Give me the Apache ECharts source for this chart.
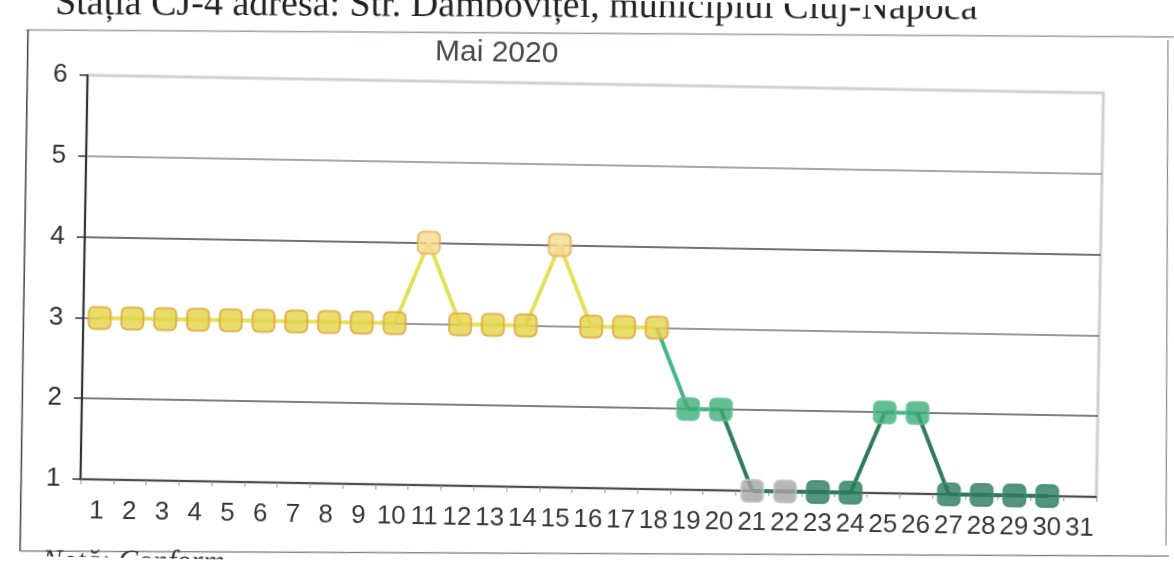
<!DOCTYPE html>
<html>
<head>
<meta charset="utf-8">
<script src="https://cdn.jsdelivr.net/npm/echarts@6/dist/echarts.min.js"></script>
<style>
html,body{margin:0;padding:0;background:#fff;overflow:hidden;}
#chart{width:1174px;height:566px;transform:rotate(1deg);transform-origin:587px 283px;}
</style>
</head>
<body>
<div id="chart"></div>
<script>
// ---- data ----
const days = ['1','2','3','4','5','6','7','8','9','10','11','12','13','14','15','16','17','18','19','20','21','22','23','24','25','26','27','28','29','30','31'];
const indexValues = [3,3,3,3,3,3,3,3,3,3,4,3,3,3,4,3,3,3,2,2,1,1,1,1,2,2,1,1,1,1,null];
const greyDays = ['21','22'];
const yTicks = [1,2,3,4,5,6];
const chartTitle = 'Mai 2020';
const headerText = 'Stația CJ-4 adresa: Str. Dâmboviței, municipiul Cluj-Napoca';
const footerText = 'Notă: Conform';

// ---- styles ----
const markerFill = {1:'#2c7b5d', 2:'#3eab7a', 3:'#e2d348', 4:'#f5d98c'};
const markerBorder = {1:'#3d8c6c', 2:'#62c394', 3:'#e0a53a', 4:'#e8ae55'};
const lineColor = {1:'#2f7b5f', 2:'#48b68a', 3:'#e3e15c', 4:'#e3e15c'};
const ROT = 1 * Math.PI / 180, CX = 587, CY = 283;
function unrot(p){
  const dx = p[0]-CX, dy = p[1]-CY;
  return [CX + dx*Math.cos(ROT) + dy*Math.sin(ROT), CY - dx*Math.sin(ROT) + dy*Math.cos(ROT)];
}

const segments = [];
for (let i = 0; i < indexValues.length - 1; i++) {
  if (indexValues[i] != null && indexValues[i+1] != null) segments.push([i, indexValues[i], indexValues[i+1]]);
}
const markers = indexValues.map((v, i) => {
  if (v == null) return null;
  const grey = greyDays.indexOf(days[i]) >= 0;
  return {
    value: [i, v],
    itemStyle: {
      color: grey ? '#a4a4a4' : markerFill[v],
      borderColor: grey ? '#c4c4c4' : markerBorder[v],
      borderWidth: 2
    }
  };
});

const chart = echarts.init(document.getElementById('chart'), null, {renderer:'canvas'});
chart.setOption({
  backgroundColor: '#ffffff',
  animation: false,
  title: {
    text: chartTitle, left: 426, top: 35,
    textStyle: {fontFamily:'Liberation Sans', fontSize:30, fontWeight:'normal', color:'#4a4a4a'}
  },
  grid: {left: 84, right: 74, top: 84, bottom: 78, show: true, borderColor:'#d0d0d0', borderWidth: 3},
  xAxis: {
    type: 'category', data: days, boundaryGap: true,
    axisLine: {show: true, lineStyle: {color:'#444', width: 1.5}},
    axisTick: {show: true, length: 5, lineStyle: {color:'#999'}},
    axisLabel: {interval: 0, fontFamily:'Liberation Sans', fontSize: 26, color:'#383838', margin: 19}
  },
  yAxis: {
    type: 'value', min: yTicks[0], max: yTicks[yTicks.length-1], interval: 1,
    axisLine: {show: true, lineStyle: {color:'#333', width: 2}},
    axisTick: {show: true, length: 8, lineStyle: {color:'#333', width: 1.5}},
    axisLabel: {fontFamily:'Liberation Sans', fontSize: 26, color:'#303030', margin: 20},
    splitLine: {show: true, lineStyle: {color: ['#444','#555','#777','#444','#888','#d0d0d0'], width: 1.5}}
  },
  series: [
    {
      type: 'custom', coordinateSystem: 'cartesian2d', data: segments, z: 2,
      encode: {x: 0, y: 1},
      renderItem: function(params, api){
        const i = api.value(0), v1 = api.value(1), v2 = api.value(2);
        const p1 = api.coord([i, v1]), p2 = api.coord([i+1, v2]);
        return {type:'line', shape:{x1:p1[0], y1:p1[1], x2:p2[0], y2:p2[1]},
          style:{stroke: lineColor[Math.min(v1, v2)], lineWidth: 4}};
      }
    },
    {
      type: 'scatter', data: markers, symbol: 'roundRect', symbolSize: 22, z: 3
    }
  ],
  graphic: [
    {type:'polyline', shape:{points:[unrot([26,30]), unrot([1174,37])]}, style:{stroke:'#a898a8', lineWidth:1.5, fill:null}},
    {type:'polyline', shape:{points:[unrot([28,30]), unrot([20,551])]}, style:{stroke:'#444', lineWidth:1.5, fill:null}},
    {type:'polyline', shape:{points:[unrot([20,551]), unrot([1174,556])]}, style:{stroke:'#777', lineWidth:1.2, fill:null}},
    {type:'polyline', shape:{points:[unrot([1168,40]), unrot([1166,546])]}, style:{stroke:'#888', lineWidth:1.2, fill:null}},
    {type:'text', x: unrot([55,23])[0], y: unrot([55,23])[1], rotation: 0.012,
      style:{text: headerText, font:'38px "Liberation Serif"', fill:'#222', verticalAlign:'bottom'}},
    {type:'text', x: unrot([42,577])[0], y: unrot([42,577])[1], rotation: 0.012,
      style:{text: footerText, font:'italic 30px "Liberation Serif"', fill:'#333', verticalAlign:'bottom'}}
  ]
});
</script>
</body>
</html>
